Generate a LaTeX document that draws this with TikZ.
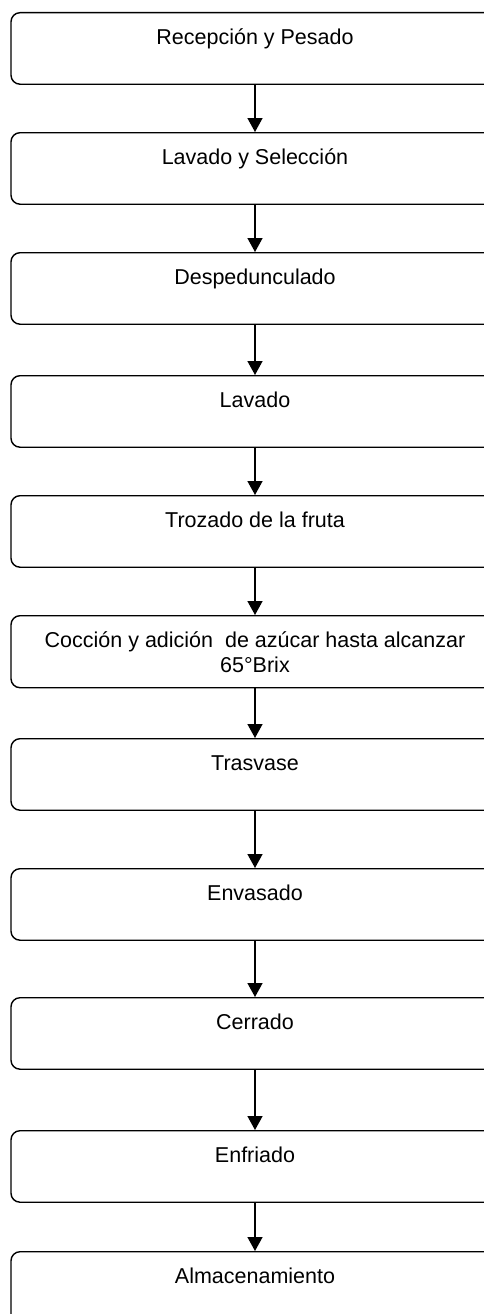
\documentclass[tikz,border=0pt]{standalone}
\usepackage{fontspec}
\setmainfont{Liberation Sans}
\usetikzlibrary{arrows.meta}

\begin{document}
\begin{tikzpicture}[x=1pt,y=1pt,line cap=round,line join=round,>={Triangle[width=15pt,length=14pt]},
        stepbox/.style={draw=black,line width=1.4pt,rounded corners=9pt,minimum width=488pt,inner sep=0pt,anchor=north,font=\fontsize{21.5}{25}\selectfont},
        onebox/.style={stepbox,text height=32pt,text depth=39.5pt},
        twobox/.style={stepbox,minimum height=72pt,align=center}]
        \useasboundingbox (0,0) rectangle (484,-1314);
        \node[onebox] (recepcion) at (255,-12) {Recepción y Pesado};
        \node[onebox] (seleccion) at (255,-132) {Lavado y Selección};
        \node[onebox] (despedunculado) at (255,-252) {Despedunculado};
        \node[onebox] (lavado) at (255,-375) {Lavado};
        \node[onebox] (trozado) at (255,-495) {Trozado de la fruta};
        \node[twobox] (coccion) at (255,-615) {Cocción y adición\ \ de azúcar hasta alcanzar\\65°Brix};
        \node[onebox] (trasvase) at (255,-738) {Trasvase};
        \node[onebox] (envasado) at (255,-868) {Envasado};
        \node[onebox] (cerrado) at (255,-997) {Cerrado};
        \node[onebox] (enfriado) at (255,-1130) {Enfriado};
        \node[onebox] (almacenamiento) at (255,-1251) {Almacenamiento};
        \foreach \a/\b in {recepcion/seleccion,seleccion/despedunculado,despedunculado/lavado,lavado/trozado,trozado/coccion,coccion/trasvase,trasvase/envasado,envasado/cerrado,cerrado/enfriado,enfriado/almacenamiento}
          \draw[->,line width=1.5pt] (\a.south) -- (\b.north);
      \end{tikzpicture}
\end{document}
